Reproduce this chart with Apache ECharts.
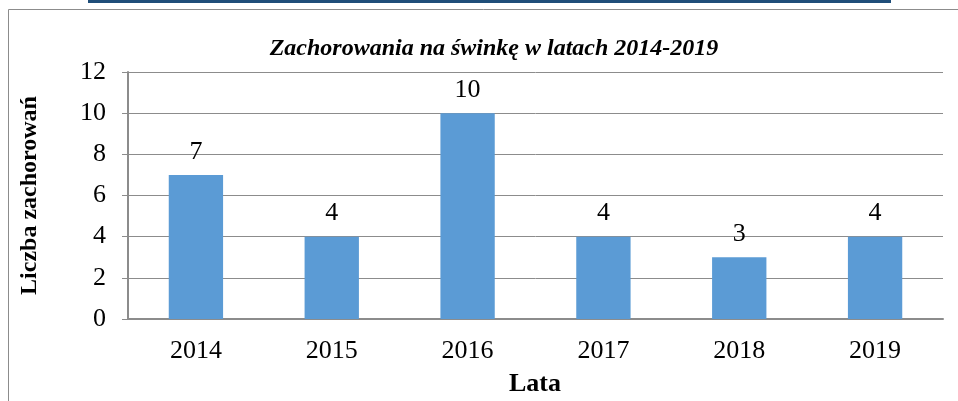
<!DOCTYPE html>
<html>
<head>
<meta charset="utf-8">
<script src="https://cdn.jsdelivr.net/npm/echarts@6/dist/echarts.min.js"></script>
<style>html,body{margin:0;padding:0;background:#fff;}#c{width:958px;height:401px;}</style>
</head>
<body>
<div id="c"></div>
<script>
const categories = ['2014', '2015', '2016', '2017', '2018', '2019'];
const cases = [7, 4, 10, 4, 3, 4];
const titleText = 'Zachorowania na świnkę w latach 2014-2019';
const yAxisName = 'Liczba zachorowań';
const xAxisName = 'Lata';

const FONT = "'Liberation Serif', 'Times New Roman', serif";
const chart = echarts.init(document.getElementById('c'), null, {renderer: 'canvas'});
chart.setOption({
  animation: false,
  backgroundColor: '#ffffff',
  title: {
    text: titleText,
    left: 489, top: 32, textAlign: 'center',
    textStyle: {fontFamily: FONT, fontSize: 24, fontWeight: 'bold', fontStyle: 'italic', color: '#000'}
  },
  graphic: [
    {type: 'line', shape: {x1: 88, y1: 1.5, x2: 891, y2: 1.5}, style: {stroke: '#1f4e79', lineWidth: 3}, silent: true},
    {type: 'rect', shape: {x: 8.5, y: 9.5, width: 1000, height: 500}, style: {fill: 'none', stroke: '#8c8c8c', lineWidth: 1}, silent: true, z: -1},
    {type: 'text', left: 509, top: 371, style: {text: xAxisName, font: "bold 26px 'Liberation Serif'", fill: '#000'}},
  ],
  grid: {left: 128, right: 15, top: 72, bottom: 82},
  xAxis: {
    type: 'category',
    data: categories,
    axisLine: {lineStyle: {color: '#8c8c8c', width: 2}},
    axisTick: {show: false},
    axisLabel: {fontFamily: FONT, fontSize: 26, color: '#000', margin: 19}
  },
  yAxis: {
    type: 'value',
    min: 0, max: 12, interval: 2,
    name: yAxisName,
    nameLocation: 'middle',
    nameGap: 86,
    nameTextStyle: {fontFamily: FONT, fontSize: 24, fontWeight: 'bold', color: '#000'},
    axisLine: {show: true, lineStyle: {color: '#8c8c8c', width: 2}},
    axisTick: {show: true, length: 6, lineStyle: {color: '#8c8c8c'}},
    splitLine: {lineStyle: {color: '#8c8c8c', width: 1}},
    axisLabel: {fontFamily: FONT, fontSize: 26, color: '#000', margin: 22}
  },
  series: [{
    type: 'bar',
    data: cases,
    barWidth: '40%',
    itemStyle: {color: '#5b9bd5'},
    label: {show: true, position: 'top', distance: 10, fontFamily: FONT, fontSize: 26, color: '#000'}
  }]
});
</script>
</body>
</html>
